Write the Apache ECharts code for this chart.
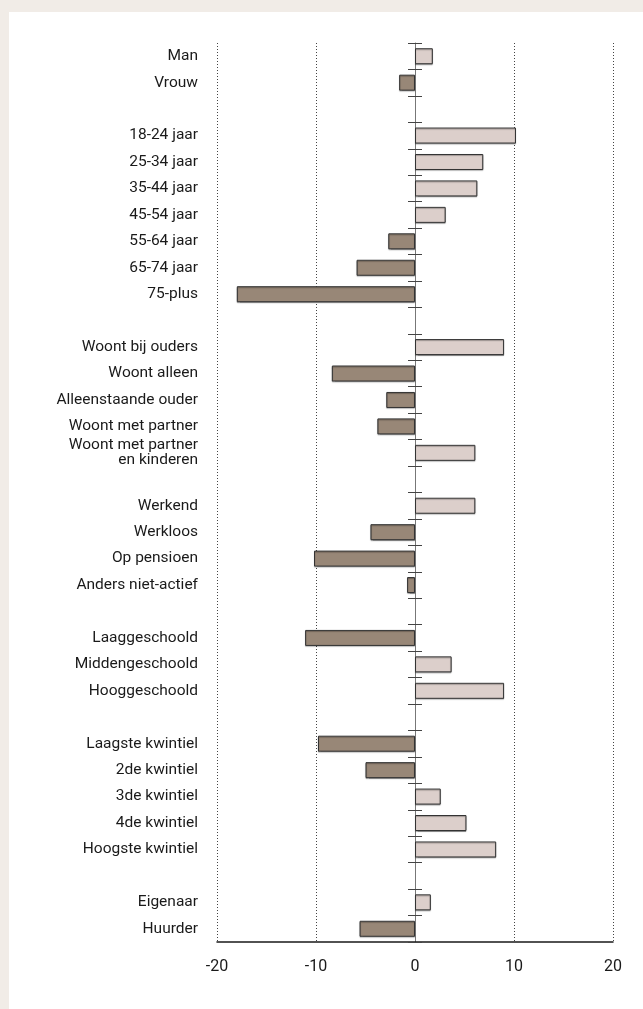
<!DOCTYPE html>
<html>
<head>
<meta charset="utf-8">
<script src="https://cdn.jsdelivr.net/npm/echarts@6/dist/echarts.min.js"></script>
<style>
  html, body { margin: 0; padding: 0; background: #f1ece7; }
  #panel { position: absolute; left: 9px; top: 12px; right: 0; bottom: 0; background: #fff; }
  #chart { position: absolute; left: 0; top: 0; width: 643px; height: 1009px; }
</style>
</head>
<body>
<div id="panel"></div>
<div id="chart"></div>
<script>
// lege strings zijn de witregels tussen de groepen
const categories = [
  'Man', 'Vrouw', '',
  '18-24 jaar', '25-34 jaar', '35-44 jaar', '45-54 jaar', '55-64 jaar', '65-74 jaar', '75-plus', ' ',
  'Woont bij ouders', 'Woont alleen', 'Alleenstaande ouder', 'Woont met partner', 'Woont met partner\nen kinderen', '  ',
  'Werkend', 'Werkloos', 'Op pensioen', 'Anders niet-actief', '   ',
  'Laaggeschoold', 'Middengeschoold', 'Hooggeschoold', '    ',
  'Laagste kwintiel', '2de kwintiel', '3de kwintiel', '4de kwintiel', 'Hoogste kwintiel', '     ',
  'Eigenaar', 'Huurder'
];
const values = [
  1.8, -1.6, null,
  10.2, 6.9, 6.3, 3.1, -2.7, -5.9, -18.0, null,
  9.0, -8.4, -2.9, -3.8, 6.1, null,
  6.1, -4.5, -10.2, -0.8, null,
  -11.1, 3.7, 9.0, null,
  -9.8, -5.0, 2.6, 5.2, 8.2, null,
  1.6, -5.6
];
const xTicks = { min: -20, max: 20, interval: 10 };

const posColor = '#dccfcb';
const negColor = '#988777';

const chart = echarts.init(document.getElementById('chart'), null, { renderer: 'canvas' });

const zeroAxis = (position, showLine) => ({
  type: 'category',
  data: categories,
  inverse: true,
  position: position,
  axisLine: {
    show: showLine,
    onZero: true,
    onZeroAxisIndex: 0,
    lineStyle: { color: '#777', width: 1 }
  },
  axisTick: { show: true, length: 7, lineStyle: { color: '#444', width: 1 } },
  axisLabel: { show: false },
  splitLine: { show: false }
});

const option = {
  backgroundColor: 'transparent',
  animation: false,
  grid: {
    left: 217, right: 30, top: 43, bottom: 67,
    containLabel: false,
    outerBoundsMode: 'none'
  },
  xAxis: {
    type: 'value',
    min: xTicks.min,
    max: xTicks.max,
    interval: xTicks.interval,
    axisLine: { show: true, onZero: false, lineStyle: { color: '#1a1a1a', width: 1.5 } },
    axisTick: { show: false },
    axisLabel: {
      margin: 17,
      fontSize: 16,
      color: '#1a1a1a',
      fontFamily: 'Roboto'
    },
    splitLine: { show: true, lineStyle: { color: '#444', width: 1, type: [1, 2] } }
  },
  yAxis: [
    {
      type: 'category',
      data: categories,
      inverse: true,
      position: 'left',
      axisLine: { show: false, onZero: false },
      axisTick: { show: false },
      axisLabel: {
        margin: 19,
        fontSize: 15.5,
        lineHeight: 15.5,
        color: '#1a1a1a',
        fontFamily: 'Roboto',
        align: 'right'
      }
    },
    zeroAxis('left', true),
    zeroAxis('right', false)
  ],
  series: [
    {
      type: 'bar',
      yAxisIndex: 0,
      barWidth: 16,
      data: values.map(v => (v == null ? null : {
        value: v,
        itemStyle: { color: v >= 0 ? posColor : negColor }
      })),
      itemStyle: {
        borderColor: '#333',
        borderWidth: 1,
        shadowColor: 'rgba(0,0,0,0.3)',
        shadowBlur: 1,
        shadowOffsetY: 1
      }
    }
  ]
};

chart.setOption(option);
</script>
</body>
</html>
